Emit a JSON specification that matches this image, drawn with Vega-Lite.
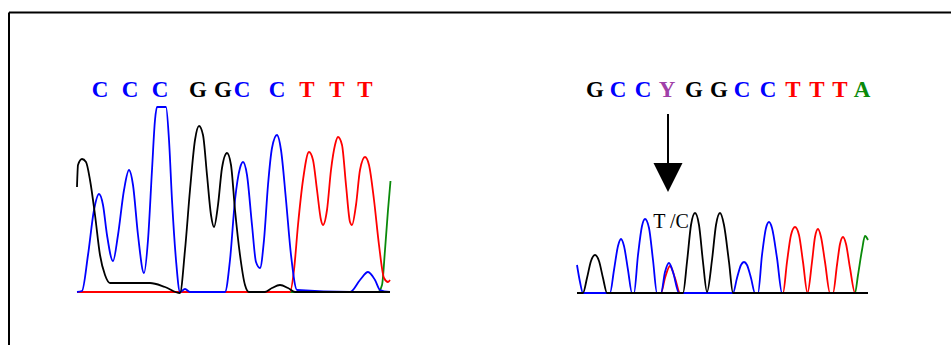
{
  "$schema": "https://vega.github.io/schema/vega-lite/v6.json",
  "width": 951,
  "height": 345,
  "padding": 0,
  "autosize": {"type": "none"},
  "background": "white",
  "config": {"view": {"stroke": null}},
  "datasets": {
    "traces": [
      {"s": "LG", "b": "A", "x": 77, "y": 292}, {"s": "LG", "b": "A", "x": 378, "y": 292}, {"s": "LG", "b": "A", "x": 382, "y": 285}, {"s": "LG", "b": "A", "x": 385, "y": 250}, {"s": "LG", "b": "A", "x": 388, "y": 210}, {"s": "LG", "b": "A", "x": 390.5, "y": 181},
      {"s": "LR", "b": "T", "x": 77, "y": 292}, {"s": "LR", "b": "T", "x": 290, "y": 292}, {"s": "LR", "b": "T", "x": 294, "y": 270}, {"s": "LR", "b": "T", "x": 298, "y": 225}, {"s": "LR", "b": "T", "x": 303, "y": 180}, {"s": "LR", "b": "T", "x": 309, "y": 152}, {"s": "LR", "b": "T", "x": 313, "y": 160}, {"s": "LR", "b": "T", "x": 317, "y": 190}, {"s": "LR", "b": "T", "x": 321, "y": 220}, {"s": "LR", "b": "T", "x": 323, "y": 225}, {"s": "LR", "b": "T", "x": 327, "y": 210}, {"s": "LR", "b": "T", "x": 331, "y": 170}, {"s": "LR", "b": "T", "x": 335, "y": 145}, {"s": "LR", "b": "T", "x": 338, "y": 137}, {"s": "LR", "b": "T", "x": 342, "y": 145}, {"s": "LR", "b": "T", "x": 346, "y": 185}, {"s": "LR", "b": "T", "x": 350, "y": 222}, {"s": "LR", "b": "T", "x": 352, "y": 225}, {"s": "LR", "b": "T", "x": 356, "y": 205}, {"s": "LR", "b": "T", "x": 360, "y": 170}, {"s": "LR", "b": "T", "x": 365, "y": 157}, {"s": "LR", "b": "T", "x": 369, "y": 165}, {"s": "LR", "b": "T", "x": 374, "y": 200}, {"s": "LR", "b": "T", "x": 379, "y": 245}, {"s": "LR", "b": "T", "x": 384, "y": 278}, {"s": "LR", "b": "T", "x": 388, "y": 282}, {"s": "LR", "b": "T", "x": 390, "y": 280},
      {"s": "LB", "b": "C", "x": 77, "y": 292}, {"s": "LB", "b": "C", "x": 82, "y": 291}, {"s": "LB", "b": "C", "x": 88, "y": 255}, {"s": "LB", "b": "C", "x": 94, "y": 210}, {"s": "LB", "b": "C", "x": 99, "y": 194}, {"s": "LB", "b": "C", "x": 103, "y": 205}, {"s": "LB", "b": "C", "x": 107, "y": 235}, {"s": "LB", "b": "C", "x": 113, "y": 261}, {"s": "LB", "b": "C", "x": 118, "y": 235}, {"s": "LB", "b": "C", "x": 124, "y": 190}, {"s": "LB", "b": "C", "x": 129, "y": 170}, {"s": "LB", "b": "C", "x": 133, "y": 185}, {"s": "LB", "b": "C", "x": 138, "y": 235}, {"s": "LB", "b": "C", "x": 144, "y": 273}, {"s": "LB", "b": "C", "x": 148, "y": 240}, {"s": "LB", "b": "C", "x": 152, "y": 170}, {"s": "LB", "b": "C", "x": 155, "y": 120}, {"s": "LB", "b": "C", "x": 157, "y": 107}, {"s": "LB", "b": "C", "x": 166, "y": 107}, {"s": "LB", "b": "C", "x": 169, "y": 140}, {"s": "LB", "b": "C", "x": 172, "y": 200}, {"s": "LB", "b": "C", "x": 176, "y": 260}, {"s": "LB", "b": "C", "x": 180, "y": 292}, {"s": "LB", "b": "C", "x": 185, "y": 289}, {"s": "LB", "b": "C", "x": 190, "y": 292}, {"s": "LB", "b": "C", "x": 225, "y": 292}, {"s": "LB", "b": "C", "x": 230, "y": 260}, {"s": "LB", "b": "C", "x": 235, "y": 200}, {"s": "LB", "b": "C", "x": 240, "y": 168}, {"s": "LB", "b": "C", "x": 243, "y": 162}, {"s": "LB", "b": "C", "x": 247, "y": 175}, {"s": "LB", "b": "C", "x": 252, "y": 225}, {"s": "LB", "b": "C", "x": 256, "y": 262}, {"s": "LB", "b": "C", "x": 260, "y": 268}, {"s": "LB", "b": "C", "x": 264, "y": 240}, {"s": "LB", "b": "C", "x": 268, "y": 185}, {"s": "LB", "b": "C", "x": 272, "y": 148}, {"s": "LB", "b": "C", "x": 277, "y": 135}, {"s": "LB", "b": "C", "x": 281, "y": 150}, {"s": "LB", "b": "C", "x": 286, "y": 200}, {"s": "LB", "b": "C", "x": 291, "y": 255}, {"s": "LB", "b": "C", "x": 297, "y": 290}, {"s": "LB", "b": "C", "x": 350, "y": 292}, {"s": "LB", "b": "C", "x": 360, "y": 280}, {"s": "LB", "b": "C", "x": 368, "y": 272}, {"s": "LB", "b": "C", "x": 375, "y": 280}, {"s": "LB", "b": "C", "x": 380, "y": 290}, {"s": "LB", "b": "C", "x": 390, "y": 292},
      {"s": "LK", "b": "G", "x": 77, "y": 187}, {"s": "LK", "b": "G", "x": 78, "y": 165}, {"s": "LK", "b": "G", "x": 82, "y": 159}, {"s": "LK", "b": "G", "x": 86, "y": 162}, {"s": "LK", "b": "G", "x": 90, "y": 180}, {"s": "LK", "b": "G", "x": 95, "y": 215}, {"s": "LK", "b": "G", "x": 100, "y": 255}, {"s": "LK", "b": "G", "x": 105, "y": 275}, {"s": "LK", "b": "G", "x": 110, "y": 283}, {"s": "LK", "b": "G", "x": 150, "y": 283}, {"s": "LK", "b": "G", "x": 165, "y": 287}, {"s": "LK", "b": "G", "x": 180, "y": 293}, {"s": "LK", "b": "G", "x": 185, "y": 250}, {"s": "LK", "b": "G", "x": 190, "y": 190}, {"s": "LK", "b": "G", "x": 195, "y": 140}, {"s": "LK", "b": "G", "x": 199, "y": 126}, {"s": "LK", "b": "G", "x": 203, "y": 135}, {"s": "LK", "b": "G", "x": 207, "y": 175}, {"s": "LK", "b": "G", "x": 211, "y": 215}, {"s": "LK", "b": "G", "x": 214, "y": 227}, {"s": "LK", "b": "G", "x": 218, "y": 205}, {"s": "LK", "b": "G", "x": 222, "y": 168}, {"s": "LK", "b": "G", "x": 227, "y": 153}, {"s": "LK", "b": "G", "x": 231, "y": 165}, {"s": "LK", "b": "G", "x": 235, "y": 210}, {"s": "LK", "b": "G", "x": 240, "y": 255}, {"s": "LK", "b": "G", "x": 245, "y": 285}, {"s": "LK", "b": "G", "x": 249, "y": 292}, {"s": "LK", "b": "G", "x": 265, "y": 292}, {"s": "LK", "b": "G", "x": 272, "y": 288}, {"s": "LK", "b": "G", "x": 280, "y": 285}, {"s": "LK", "b": "G", "x": 288, "y": 288}, {"s": "LK", "b": "G", "x": 295, "y": 292}, {"s": "LK", "b": "G", "x": 390, "y": 292},
      {"s": "RG", "b": "A", "x": 577, "y": 293}, {"s": "RG", "b": "A", "x": 855, "y": 293}, {"s": "RG", "b": "A", "x": 858, "y": 275}, {"s": "RG", "b": "A", "x": 862, "y": 250}, {"s": "RG", "b": "A", "x": 865, "y": 236}, {"s": "RG", "b": "A", "x": 868, "y": 240},
      {"s": "RR", "b": "T", "x": 577, "y": 293}, {"s": "RR", "b": "T", "x": 661, "y": 293}, {"s": "RR", "b": "T", "x": 665, "y": 278}, {"s": "RR", "b": "T", "x": 670, "y": 266}, {"s": "RR", "b": "T", "x": 675, "y": 278}, {"s": "RR", "b": "T", "x": 680, "y": 293}, {"s": "RR", "b": "T", "x": 783, "y": 293}, {"s": "RR", "b": "T", "x": 787, "y": 262}, {"s": "RR", "b": "T", "x": 791, "y": 235}, {"s": "RR", "b": "T", "x": 795, "y": 227}, {"s": "RR", "b": "T", "x": 799, "y": 235}, {"s": "RR", "b": "T", "x": 803, "y": 262}, {"s": "RR", "b": "T", "x": 807.5, "y": 293}, {"s": "RR", "b": "T", "x": 812, "y": 262}, {"s": "RR", "b": "T", "x": 815, "y": 237}, {"s": "RR", "b": "T", "x": 818, "y": 229}, {"s": "RR", "b": "T", "x": 821, "y": 237}, {"s": "RR", "b": "T", "x": 825, "y": 262}, {"s": "RR", "b": "T", "x": 830, "y": 293}, {"s": "RR", "b": "T", "x": 833, "y": 293}, {"s": "RR", "b": "T", "x": 837, "y": 265}, {"s": "RR", "b": "T", "x": 840, "y": 244}, {"s": "RR", "b": "T", "x": 843, "y": 237}, {"s": "RR", "b": "T", "x": 846, "y": 244}, {"s": "RR", "b": "T", "x": 850, "y": 268}, {"s": "RR", "b": "T", "x": 855, "y": 293}, {"s": "RR", "b": "T", "x": 868, "y": 293},
      {"s": "RB", "b": "C", "x": 577, "y": 265}, {"s": "RB", "b": "C", "x": 580, "y": 282}, {"s": "RB", "b": "C", "x": 583, "y": 293}, {"s": "RB", "b": "C", "x": 610, "y": 293}, {"s": "RB", "b": "C", "x": 614, "y": 270}, {"s": "RB", "b": "C", "x": 618, "y": 246}, {"s": "RB", "b": "C", "x": 621, "y": 239}, {"s": "RB", "b": "C", "x": 624, "y": 246}, {"s": "RB", "b": "C", "x": 628, "y": 270}, {"s": "RB", "b": "C", "x": 632, "y": 293}, {"s": "RB", "b": "C", "x": 634, "y": 293}, {"s": "RB", "b": "C", "x": 638, "y": 255}, {"s": "RB", "b": "C", "x": 642, "y": 226}, {"s": "RB", "b": "C", "x": 645, "y": 219}, {"s": "RB", "b": "C", "x": 649, "y": 228}, {"s": "RB", "b": "C", "x": 653, "y": 260}, {"s": "RB", "b": "C", "x": 657, "y": 293}, {"s": "RB", "b": "C", "x": 661, "y": 293}, {"s": "RB", "b": "C", "x": 665, "y": 272}, {"s": "RB", "b": "C", "x": 669, "y": 263}, {"s": "RB", "b": "C", "x": 673, "y": 272}, {"s": "RB", "b": "C", "x": 679, "y": 293}, {"s": "RB", "b": "C", "x": 733, "y": 293}, {"s": "RB", "b": "C", "x": 737, "y": 278}, {"s": "RB", "b": "C", "x": 741, "y": 265}, {"s": "RB", "b": "C", "x": 744, "y": 262}, {"s": "RB", "b": "C", "x": 747, "y": 265}, {"s": "RB", "b": "C", "x": 751, "y": 278}, {"s": "RB", "b": "C", "x": 755, "y": 293}, {"s": "RB", "b": "C", "x": 758, "y": 293}, {"s": "RB", "b": "C", "x": 762, "y": 255}, {"s": "RB", "b": "C", "x": 766, "y": 228}, {"s": "RB", "b": "C", "x": 769, "y": 222}, {"s": "RB", "b": "C", "x": 772, "y": 228}, {"s": "RB", "b": "C", "x": 777, "y": 258}, {"s": "RB", "b": "C", "x": 782, "y": 293}, {"s": "RB", "b": "C", "x": 868, "y": 293},
      {"s": "RK", "b": "G", "x": 577, "y": 293}, {"s": "RK", "b": "G", "x": 583, "y": 293}, {"s": "RK", "b": "G", "x": 587, "y": 278}, {"s": "RK", "b": "G", "x": 591, "y": 261}, {"s": "RK", "b": "G", "x": 595, "y": 255}, {"s": "RK", "b": "G", "x": 599, "y": 261}, {"s": "RK", "b": "G", "x": 603, "y": 278}, {"s": "RK", "b": "G", "x": 607, "y": 293}, {"s": "RK", "b": "G", "x": 683, "y": 293}, {"s": "RK", "b": "G", "x": 687, "y": 262}, {"s": "RK", "b": "G", "x": 691, "y": 225}, {"s": "RK", "b": "G", "x": 695, "y": 213}, {"s": "RK", "b": "G", "x": 699, "y": 225}, {"s": "RK", "b": "G", "x": 703, "y": 262}, {"s": "RK", "b": "G", "x": 707, "y": 292}, {"s": "RK", "b": "G", "x": 712, "y": 260}, {"s": "RK", "b": "G", "x": 716, "y": 225}, {"s": "RK", "b": "G", "x": 720, "y": 213}, {"s": "RK", "b": "G", "x": 724, "y": 225}, {"s": "RK", "b": "G", "x": 729, "y": 262}, {"s": "RK", "b": "G", "x": 733, "y": 293}, {"s": "RK", "b": "G", "x": 868, "y": 293}
    ],
    "letters": [
      {"t": "C", "b": "C", "x": 100, "y": 97}, {"t": "C", "b": "C", "x": 130, "y": 97}, {"t": "C", "b": "C", "x": 160, "y": 97},
      {"t": "G", "b": "G", "x": 198, "y": 97}, {"t": "G", "b": "G", "x": 223, "y": 97}, {"t": "C", "b": "C", "x": 242, "y": 97},
      {"t": "C", "b": "C", "x": 277, "y": 97}, {"t": "T", "b": "T", "x": 307, "y": 97}, {"t": "T", "b": "T", "x": 337, "y": 97}, {"t": "T", "b": "T", "x": 365, "y": 97},
      {"t": "G", "b": "G", "x": 595, "y": 97}, {"t": "C", "b": "C", "x": 618, "y": 97}, {"t": "C", "b": "C", "x": 643, "y": 97}, {"t": "Y", "b": "Y", "x": 667, "y": 97},
      {"t": "G", "b": "G", "x": 694, "y": 97}, {"t": "G", "b": "G", "x": 719, "y": 97}, {"t": "C", "b": "C", "x": 742, "y": 97}, {"t": "C", "b": "C", "x": 768, "y": 97},
      {"t": "T", "b": "T", "x": 793, "y": 97}, {"t": "T", "b": "T", "x": 817, "y": 97}, {"t": "T", "b": "T", "x": 840, "y": 97}, {"t": "A", "b": "A", "x": 862, "y": 97}
    ],
    "rules": [
      {"x": 9, "x2": 951, "y": 12.5, "y2": 12.5},
      {"x": 9, "x2": 9, "y": 12.5, "y2": 345},
      {"x": 668, "x2": 668, "y": 114, "y2": 166}
    ],
    "arrowhead": [{"x": 668, "y": 177.5}],
    "label": [{"t": "T /C", "x": 671, "y": 228}]
  },
  "layer": [
    {
      "data": {"name": "traces"},
      "mark": {"type": "line", "interpolate": "monotone", "strokeWidth": 1.8},
      "encoding": {
        "x": {"field": "x", "type": "quantitative", "scale": {"domain": [0, 951], "nice": false, "zero": false}, "axis": null},
        "y": {"field": "y", "type": "quantitative", "scale": {"domain": [0, 345], "nice": false, "zero": false, "reverse": true}, "axis": null},
        "color": {"field": "b", "type": "nominal", "scale": {"domain": ["A", "C", "G", "T", "Y"], "range": ["#0a8a0a", "#0000ff", "#000000", "#ff0000", "#a040a8"]}, "legend": null},
        "detail": {"field": "s"}
      }
    },
    {
      "data": {"name": "letters"},
      "mark": {"type": "text", "font": "Liberation Serif", "fontSize": 23, "fontWeight": "bold", "baseline": "alphabetic", "align": "center"},
      "encoding": {
        "x": {"field": "x", "type": "quantitative"},
        "y": {"field": "y", "type": "quantitative"},
        "text": {"field": "t"},
        "color": {"field": "b", "type": "nominal", "legend": null}
      }
    },
    {
      "data": {"name": "rules"},
      "mark": {"type": "rule", "color": "black", "strokeWidth": 2},
      "encoding": {
        "x": {"field": "x", "type": "quantitative"},
        "x2": {"field": "x2"},
        "y": {"field": "y", "type": "quantitative"},
        "y2": {"field": "y2"}
      }
    },
    {
      "data": {"name": "arrowhead"},
      "mark": {"type": "point", "shape": "M-1,-1L1,-1L0,1Z", "filled": true, "color": "black", "opacity": 1, "size": 841},
      "encoding": {
        "x": {"field": "x", "type": "quantitative"},
        "y": {"field": "y", "type": "quantitative"}
      }
    },
    {
      "data": {"name": "label"},
      "mark": {"type": "text", "font": "Liberation Serif", "fontSize": 20, "baseline": "alphabetic", "align": "center", "color": "black"},
      "encoding": {
        "x": {"field": "x", "type": "quantitative"},
        "y": {"field": "y", "type": "quantitative"},
        "text": {"field": "t"}
      }
    }
  ]
}
